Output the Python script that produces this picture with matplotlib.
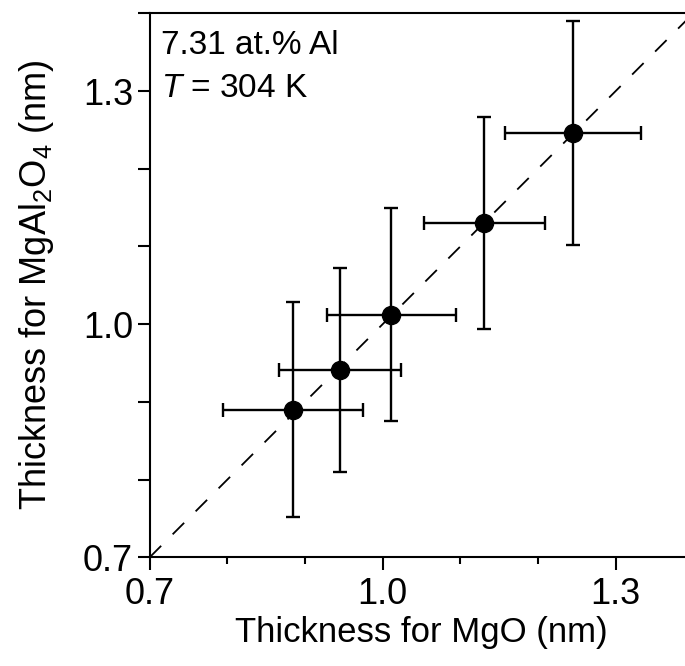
import matplotlib
matplotlib.use('Agg')
import matplotlib.pyplot as plt
import numpy as np

# thickness values (nm)
mgo = [0.885, 0.945, 1.011, 1.131, 1.245]
mgal2o4 = [0.890, 0.941, 1.012, 1.130, 1.246]
mgo_err = [0.090, 0.079, 0.083, 0.078, 0.088]
mgal2o4_err = [0.138, 0.131, 0.137, 0.136, 0.144]

label_ticks = [0.7, 1.0, 1.3]

plt.rcParams['font.family'] = ['Liberation Sans', 'DejaVu Sans']
plt.rcParams['mathtext.fontset'] = 'custom'
plt.rcParams['mathtext.rm'] = 'Liberation Sans'
plt.rcParams['mathtext.it'] = 'Liberation Sans:italic'

fig = plt.figure(figsize=(6.85, 6.66), dpi=100)
ax = fig.add_axes([0.2185, 0.1632, 0.7937, 0.8168])

ax.plot([0.7, 1.4], [0.7, 1.4], color='black', lw=1.3, ls=(0, (9, 9)))
ax.errorbar(mgo, mgal2o4, xerr=mgo_err, yerr=mgal2o4_err, fmt='o',
            color='black', ms=13, elinewidth=1.7, capsize=5, capthick=1.7)

ax.set_xlim(0.7, 1.4)
ax.set_ylim(0.7, 1.4)
ax.set_xticks(label_ticks)
ax.set_xticks(np.arange(0.7, 1.41, 0.1), minor=True)
ax.set_yticks(label_ticks)
ax.set_yticks(np.arange(0.7, 1.41, 0.1), minor=True)
ax.set_xticklabels(['%.1f' % t for t in label_ticks])
ax.set_yticklabels(['%.1f' % t for t in label_ticks])
ax.tick_params(axis='both', which='major', direction='out', length=9,
               width=1.5, labelsize=26)
ax.tick_params(axis='x', which='major', pad=5)
ax.tick_params(axis='y', which='major', pad=3)
ax.tick_params(axis='x', which='minor', direction='out', length=5, width=1.5)
ax.tick_params(axis='y', which='minor', direction='out', length=9, width=1.5)
for s in ax.spines.values():
    s.set_linewidth(1.5)

ax.set_xlabel('Thickness for MgO (nm)', fontsize=25)
ax.set_ylabel('Thickness for MgAl$_2$O$_4$ (nm)', fontsize=26)
ax.xaxis.set_label_coords(0.5, -0.108)
ax.yaxis.set_label_coords(-0.172, 0.5)

ax.text(0.021, 0.925, '7.31 at.% Al', transform=ax.transAxes,
        fontsize=24, va='baseline', ha='left')
ax.text(0.021, 0.846, '$T$ = 304 K', transform=ax.transAxes,
        fontsize=24, va='baseline', ha='left')

fig.savefig('out.png', dpi=100)
